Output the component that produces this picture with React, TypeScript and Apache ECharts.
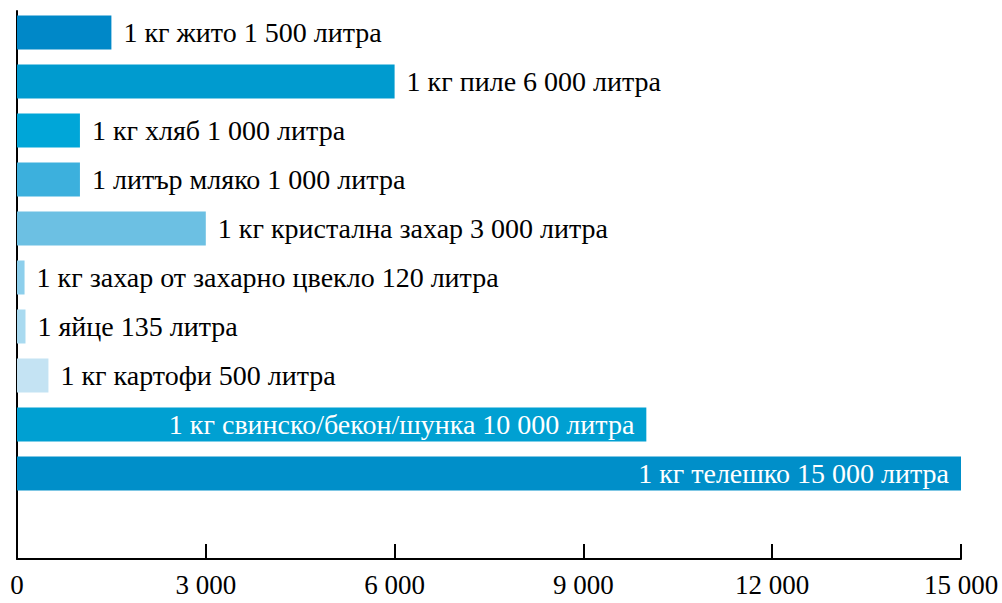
import React, { useEffect, useRef } from "react";
import * as echarts from "echarts";

const categories = [
  "1 кг жито",
  "1 кг пиле",
  "1 кг хляб",
  "1 литър мляко",
  "1 кг кристална захар",
  "1 кг захар от захарно цвекло",
  "1 яйце",
  "1 кг картофи",
  "1 кг свинско/бекон/шунка",
  "1 кг телешко",
];
const values = [1500, 6000, 1000, 1000, 3000, 120, 135, 500, 10000, 15000];
const barColors = [
  "#0088C8",
  "#009BCF",
  "#00A6D8",
  "#3CB0DD",
  "#6CC0E3",
  "#8DCFEC",
  "#A9DAF0",
  "#C4E3F3",
  "#00A0D2",
  "#008FC9",
];
const insideLabel = [false, false, false, false, false, false, false, false, true, true];
const unit = "литра";
const xTicks = { min: 0, max: 15000, interval: 3000 };

const fmt = (v: number) => String(Math.round(v)).replace(/\B(?=(\d{3})+(?!\d))/g, " ");

export default function App() {
  const ref = useRef<HTMLDivElement>(null);
  useEffect(() => {
    if (!ref.current) return;
    const chart = echarts.init(ref.current, null, { renderer: "svg" });
    const font = "Liberation Serif";
    chart.setOption({
      animation: false,
      textStyle: { fontFamily: font },
      grid: [
        { left: 17, top: 8, width: 944, height: 490 },
        { left: 17, top: 11, width: 944, height: 548 },
      ],
      xAxis: [
        {
          gridIndex: 0,
          type: "value",
          min: xTicks.min,
          max: xTicks.max,
          interval: xTicks.interval,
          show: false,
        },
        {
          gridIndex: 1,
          type: "value",
          min: xTicks.min,
          max: xTicks.max,
          interval: xTicks.interval,
          axisLine: { show: true, lineStyle: { color: "#000", width: 2 } },
          axisTick: { show: true, inside: true, length: 15, lineStyle: { color: "#000", width: 2 } },
          splitLine: { show: false },
          axisLabel: {
            color: "#000",
            fontFamily: font,
            fontSize: 27,
            margin: 12,
            formatter: (v: number) => fmt(v),
          },
        },
      ],
      yAxis: [
        {
          gridIndex: 0,
          type: "category",
          data: categories,
          inverse: true,
          show: false,
        },
        {
          gridIndex: 1,
          type: "value",
          min: 0,
          max: 1,
          axisLine: { show: true, lineStyle: { color: "#000", width: 2 } },
          axisTick: { show: false },
          axisLabel: { show: false },
          splitLine: { show: false },
        },
      ],
      series: [
        {
          type: "bar",
          xAxisIndex: 0,
          yAxisIndex: 0,
          barWidth: 34,
          data: values.map((v, i) => ({
            value: v,
            itemStyle: { color: barColors[i] },
            label: {
              show: true,
              position: insideLabel[i] ? "insideRight" : "right",
              distance: 12,
              color: insideLabel[i] ? "#fff" : "#000",
              fontFamily: font,
              fontSize: 28,
              formatter: `${categories[i]} ${fmt(v)} ${unit}`,
            },
          })),
        },
      ],
    });
    return () => chart.dispose();
  }, []);
  return (
    <div
      ref={ref}
      style={{ position: "fixed", left: 0, top: 0, width: 1002, height: 603, background: "#fff" }}
    />
  );
}
